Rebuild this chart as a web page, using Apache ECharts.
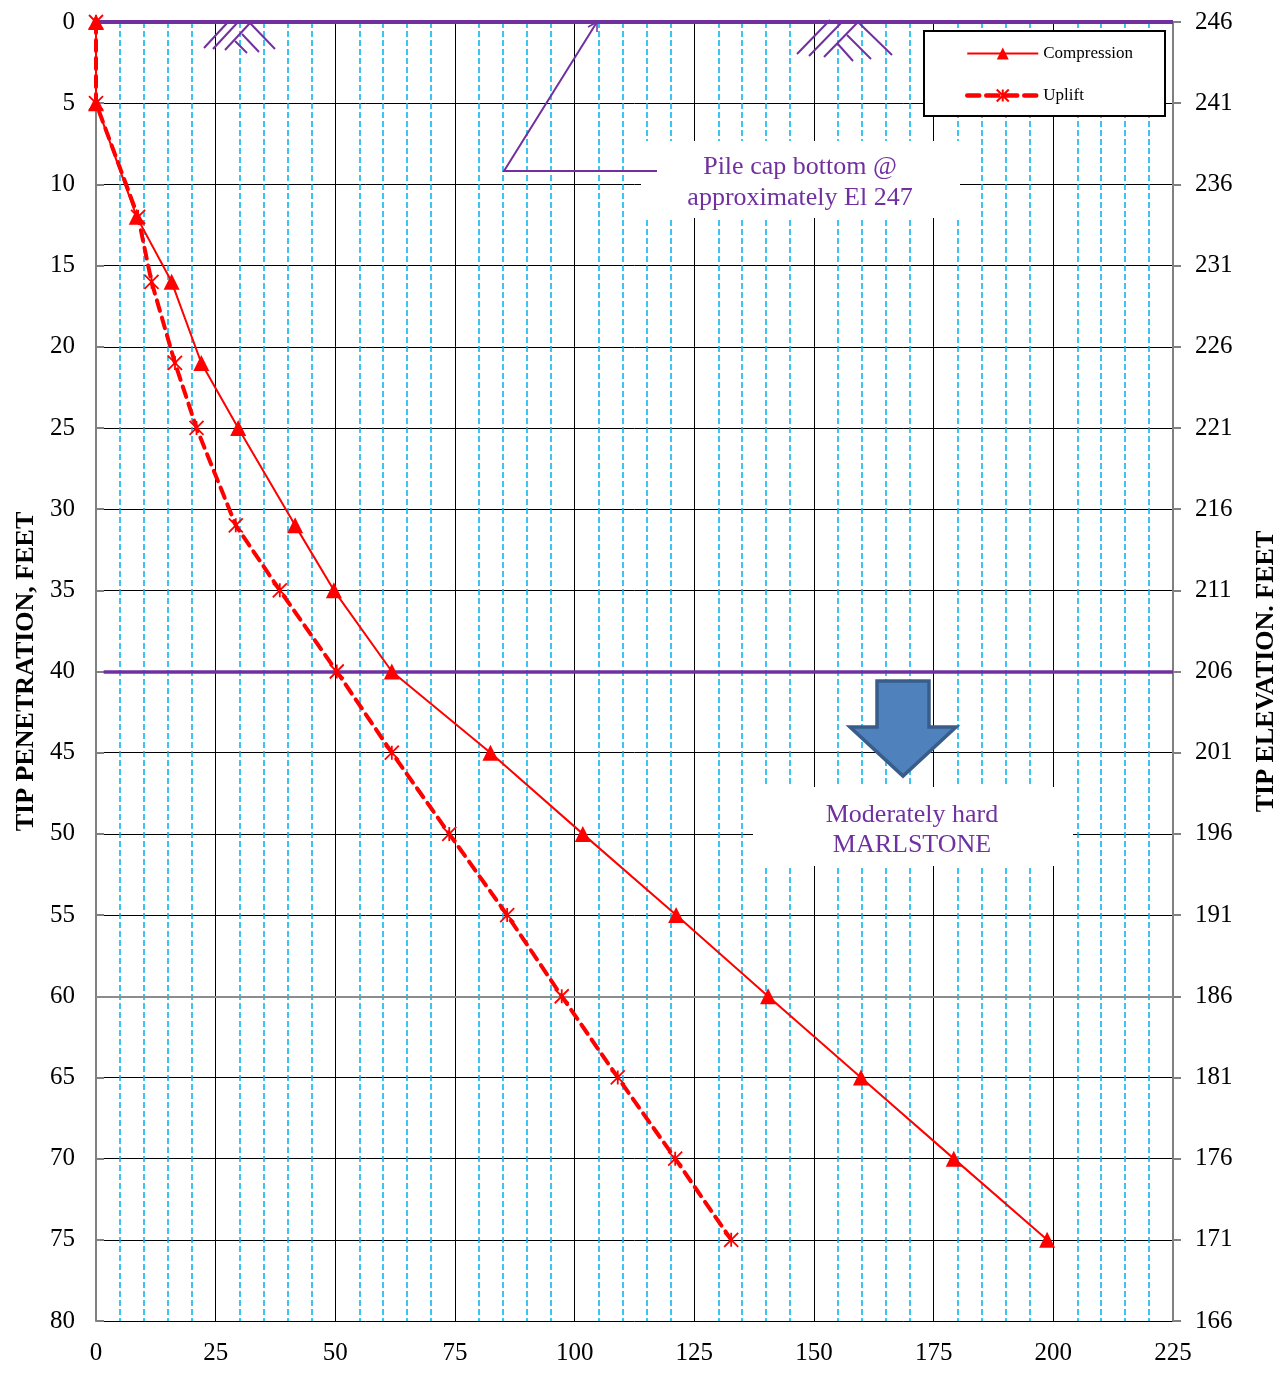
<!DOCTYPE html>
<html>
<head>
<meta charset="utf-8">
<title>Pile capacity vs tip penetration</title>
<script src="https://cdn.jsdelivr.net/npm/echarts@6/dist/echarts.min.js"></script>
<style>
  html, body { margin: 0; padding: 0; background: #fff; }
  #chart { width: 1275px; height: 1374px; }
</style>
</head>
<body>
<div id="chart"></div>
<script>
// Tip penetration below ground surface (ft)
const tipDepth = [0, 5, 12, 16, 21, 25, 31, 35, 40, 45, 50, 55, 60, 65, 70, 75];
// Allowable pile capacity at each depth
const compression = [0, 0, 8.5, 15.8, 22, 29.7, 41.6, 49.7, 61.8, 82.4, 101.7, 121.2, 140.4, 159.8, 179.2, 198.7];
const uplift = [0, 0, 8.8, 11.6, 16.5, 21, 29.2, 38.4, 50.3, 61.8, 73.8, 85.9, 97.3, 109, 121, 132.7];
// Tip elevation labels for the right-hand axis (one per 5 ft of penetration)
const elevationLabels = [246, 241, 236, 231, 226, 221, 216, 211, 206, 201, 196, 191, 186, 181, 176, 171, 166];
// Reference depths: ground surface, top of marlstone, lower grid rule
const groundSurfaceDepth = 0;
const marlstoneDepth = 40;
const grayRuleDepth = 60;

const SERIF = '"Liberation Serif", "Times New Roman", serif';
const PURPLE = '#7030A0';
const RED = '#FF0000';

const pairs = (xs) => xs.map((v, i) => [v, tipDepth[i]]);

const starSymbol = 'path://M0,0L10,10M10,0L0,10M5,0L5,10';

const chart = echarts.init(document.getElementById('chart'), null, { renderer: 'canvas' });

const groundSymbolSegments = [
  [[204, 48], [228, 22]], [[213, 49], [238, 22]], [[225, 50], [250, 23]],
  [[250, 23], [275, 49]], [[235, 41], [247, 53]], [[242, 34], [259, 52]],
  [[797, 54], [830, 20]], [[809, 56], [843, 21]], [[824, 57], [858, 22]],
  [[858, 22], [892, 55]], [[837, 43], [853, 61]], [[847, 35], [871, 59]]
];

const graphics = [];
groundSymbolSegments.forEach(seg => {
  graphics.push({
    type: 'polyline', z: 50, silent: true,
    shape: { points: seg },
    style: { stroke: PURPLE, lineWidth: 2, fill: null }
  });
});

// Pile cap note
graphics.push({
  type: 'rect', z: 60, silent: true,
  shape: { x: 641, y: 141, width: 319, height: 77 },
  style: { fill: '#fff' }
});
graphics.push({
  type: 'text', z: 61, silent: true,
  style: { text: 'Pile cap bottom @', x: 800, y: 167, align: 'center', verticalAlign: 'middle',
           font: '26px ' + SERIF, fill: PURPLE }
});
graphics.push({
  type: 'text', z: 61, silent: true,
  style: { text: 'approximately El 247', x: 800, y: 198, align: 'center', verticalAlign: 'middle',
           font: '26px ' + SERIF, fill: PURPLE }
});

// Leader pointing to the pile cap
graphics.push({
  type: 'polyline', z: 62, silent: true,
  shape: { points: [[657, 171], [504, 171], [597, 22]] },
  style: { stroke: PURPLE, lineWidth: 2, fill: null }
});
graphics.push({
  type: 'polyline', z: 62, silent: true,
  shape: { points: [[588, 27], [597, 22], [597, 32]] },
  style: { stroke: PURPLE, lineWidth: 1.5, fill: null }
});

// Marlstone arrow and note
graphics.push({
  type: 'polygon', z: 60, silent: true,
  shape: { points: [[877, 681], [929, 681], [929, 727], [956, 727], [903, 776], [850, 727], [877, 727]] },
  style: { fill: '#4F81BD', stroke: '#385D8A', lineWidth: 3.5 }
});
graphics.push({
  type: 'rect', z: 60, silent: true,
  shape: { x: 753, y: 787, width: 320, height: 79 },
  style: { fill: '#fff' }
});
graphics.push({
  type: 'text', z: 61, silent: true,
  style: { text: 'Moderately hard', x: 912, y: 815, align: 'center', verticalAlign: 'middle',
           font: '26px ' + SERIF, fill: PURPLE }
});
graphics.push({
  type: 'text', z: 61, silent: true,
  style: { text: 'MARLSTONE', x: 912, y: 845, align: 'center', verticalAlign: 'middle',
           font: '26px ' + SERIF, fill: PURPLE }
});

// Legend frame
graphics.push({
  type: 'rect', z: 60, silent: true,
  shape: { x: 924, y: 31, width: 241, height: 85 },
  style: { fill: '#fff', stroke: '#000', lineWidth: 2 }
});

const option = {
  animation: false,
  backgroundColor: '#fff',
  grid: { left: 96, right: 102, top: 22, bottom: 53, containLabel: false, outerBoundsMode: 'none' },
  legend: {
    z: 70,
    left: 960, top: 40,
    orient: 'vertical',
    itemWidth: 71, itemHeight: 15, itemGap: 25,
    selectedMode: false,
    textStyle: { fontFamily: SERIF, fontSize: 17, color: '#000' },
    data: [
      { name: 'Compression' },
      { name: 'Uplift', lineStyle: { width: 4.5, type: [12, 7], cap: 'round' } }
    ]
  },
  xAxis: {
    type: 'value', min: 0, max: 225, interval: 25,
    axisLine: { show: true, lineStyle: { color: '#808080', width: 1 } },
    axisTick: { show: false },
    axisLabel: { fontFamily: SERIF, fontSize: 25, color: '#000', margin: 20 },
    splitLine: { show: true, lineStyle: { color: '#000', width: 1 } },
    minorTick: { show: false, splitNumber: 5 },
    minorSplitLine: { show: true, lineStyle: { color: '#00B0F0', width: 1.5, type: [6, 3] } }
  },
  yAxis: [
    {
      type: 'value', min: 0, max: 80, interval: 5, inverse: true, position: 'left',
      name: 'TIP PENETRATION, FEET', nameLocation: 'middle', nameGap: 57,
      nameTextStyle: { fontFamily: SERIF, fontSize: 26, fontWeight: 'bold', color: '#000' },
      axisLine: { show: true, lineStyle: { color: '#808080', width: 2 } },
      axisTick: { show: true, inside: true, length: 8, lineStyle: { color: '#808080', width: 2 } },
      axisLabel: { fontFamily: SERIF, fontSize: 25, color: '#000', margin: 21 },
      splitLine: { show: true, lineStyle: { color: '#000', width: 1 } }
    },
    {
      type: 'value', min: 0, max: 80, interval: 5, inverse: true, position: 'right',
      name: 'TIP ELEVATION. FEET', nameLocation: 'middle', nameGap: 80, nameRotate: 90,
      nameTextStyle: { fontFamily: SERIF, fontSize: 26, fontWeight: 'bold', color: '#000' },
      axisLine: { show: true, lineStyle: { color: '#808080', width: 2 } },
      axisTick: { show: true, inside: false, length: 8, lineStyle: { color: '#808080', width: 2 } },
      axisLabel: {
        fontFamily: SERIF, fontSize: 25, color: '#000', margin: 22,
        formatter: (v) => String(elevationLabels[Math.round(v / 5)])
      },
      splitLine: { show: false }
    }
  ],
  series: [
    {
      name: 'Compression',
      type: 'line',
      yAxisIndex: 0,
      data: pairs(compression),
      clip: false,
      z: 10,
      symbol: 'triangle',
      symbolSize: 16,
      lineStyle: { color: RED, width: 2 },
      itemStyle: { color: RED },
      emphasis: { disabled: true },
      markLine: {
        silent: true,
        symbol: 'none',
        label: { show: false },
        z: 5,
        data: [
          [{ coord: [0, groundSurfaceDepth], lineStyle: { color: PURPLE, width: 4, type: 'solid' } },
           { coord: [225, groundSurfaceDepth] }],
          [{ coord: [1.6, marlstoneDepth], lineStyle: { color: PURPLE, width: 3.5, type: 'solid' } },
           { coord: [225, marlstoneDepth] }],
          [{ coord: [0, grayRuleDepth], lineStyle: { color: '#8C8C8C', width: 2, type: 'solid' } },
           { coord: [225, grayRuleDepth] }]
        ]
      }
    },
    {
      name: 'Uplift',
      type: 'line',
      yAxisIndex: 0,
      data: pairs(uplift),
      clip: false,
      z: 9,
      symbol: starSymbol,
      symbolSize: 14,
      lineStyle: { color: RED, width: 4, type: [11, 7], cap: 'round' },
      itemStyle: { color: RED, borderColor: RED, borderWidth: 1.8 },
      emphasis: { disabled: true }
    }
  ],
  graphic: { elements: graphics }
};

chart.setOption(option);
</script>
</body>
</html>
